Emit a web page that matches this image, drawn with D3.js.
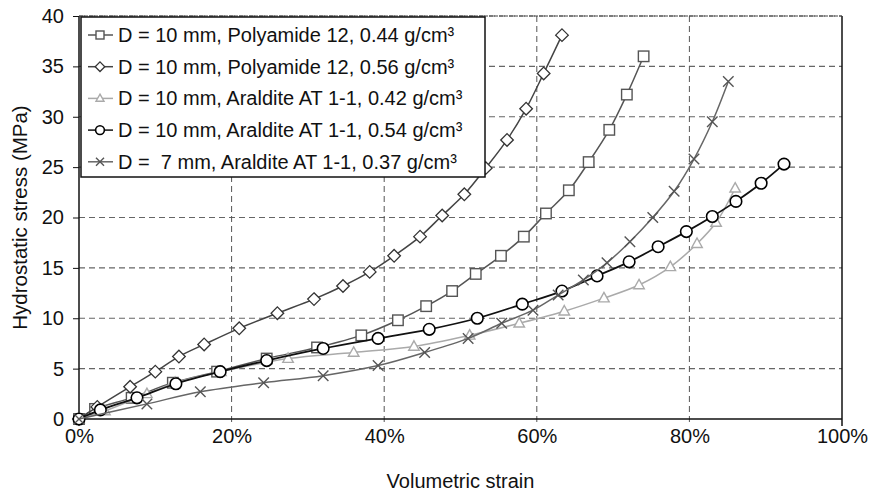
<!DOCTYPE html>
<html>
<head>
<meta charset="utf-8">
<script src="https://cdn.jsdelivr.net/npm/d3@7"></script>
<style>
  body { margin: 0; background: #fff; }
  text { font-family: "Liberation Sans", Arial, sans-serif; }
</style>
</head>
<body>
<div id="chart"></div>
<script>
// データ
var xTicks = [0, 20, 40, 60, 80, 100];
var yTicks = [0, 5, 10, 15, 20, 25, 30, 35, 40];

var seriesNames = [
  "D = 10 mm, Polyamide 12, 0.44 g/cm³",
  "D = 10 mm, Polyamide 12, 0.56 g/cm³",
  "D = 10 mm, Araldite AT 1-1, 0.42 g/cm³",
  "D = 10 mm, Araldite AT 1-1, 0.54 g/cm³",
  "D =  7 mm, Araldite AT 1-1, 0.37 g/cm³"
];

var pa044X = [0, 2.1, 6.9, 12.3, 18.1, 24.6, 31.2, 37.0, 41.8, 45.5, 48.9, 52.0, 55.3, 58.3, 61.2, 64.2, 66.8, 69.5, 71.8, 74.0];
var pa044Y = [0, 1.0, 2.1, 3.6, 4.7, 6.0, 7.1, 8.3, 9.8, 11.2, 12.7, 14.4, 16.2, 18.1, 20.4, 22.7, 25.5, 28.7, 32.2, 36.0];

var pa056X = [0, 2.4, 6.7, 10.0, 13.1, 16.4, 21.0, 26.0, 30.8, 34.6, 38.1, 41.3, 44.7, 47.6, 50.5, 53.3, 56.1, 58.6, 60.9, 63.3];
var pa056Y = [0, 1.2, 3.2, 4.7, 6.2, 7.4, 9.0, 10.5, 11.9, 13.2, 14.6, 16.2, 18.1, 20.2, 22.3, 24.9, 27.7, 30.8, 34.3, 38.1];

var ar042X = [0, 3.4, 8.9, 12.6, 18.6, 27.4, 36.0, 43.9, 51.2, 57.7, 63.6, 68.8, 73.4, 77.5, 81.0, 83.5, 86.0];
var ar042Y = [0, 0.8, 2.5, 3.6, 4.7, 6.0, 6.6, 7.2, 8.3, 9.5, 10.7, 12.0, 13.3, 15.1, 17.4, 19.5, 22.9];

var ar054X = [0, 2.8, 7.6, 12.7, 18.5, 24.6, 32.0, 39.2, 45.9, 52.2, 58.1, 63.3, 67.9, 72.1, 75.9, 79.6, 83.0, 86.1, 89.4, 92.4];
var ar054Y = [0, 0.9, 2.1, 3.5, 4.7, 5.8, 7.0, 8.0, 8.9, 10.0, 11.4, 12.7, 14.2, 15.6, 17.1, 18.6, 20.1, 21.6, 23.4, 25.3];

var ar037X = [0, 8.9, 15.9, 24.2, 32.0, 39.2, 45.3, 51.0, 55.4, 59.5, 62.8, 66.1, 69.2, 72.2, 75.2, 78.0, 80.6, 83.0, 85.1];
var ar037Y = [0, 1.5, 2.7, 3.6, 4.3, 5.3, 6.6, 8.0, 9.5, 10.8, 12.3, 13.8, 15.5, 17.6, 20.0, 22.6, 25.8, 29.5, 33.5];

// 描画領域
var W = 871, H = 494;
var margin = {top: 16, right: 29, bottom: 75, left: 79},
  width = W - margin.left - margin.right,
  height = H - margin.top - margin.bottom;

var x = d3.scaleLinear().domain([0, 100]).range([0, width]);
var y = d3.scaleLinear().domain([0, 40]).range([height, 0]);

var svg = d3.select("#chart").append("svg")
  .attr("width", W).attr("height", H)
  .append("g")
  .attr("transform", "translate(" + margin.left + "," + margin.top + ")");

// グリッド
svg.selectAll("line.hgrid").data(yTicks.filter(function(d){ return d > 0; }))
  .enter().append("line")
  .attr("x1", 0).attr("x2", width)
  .attr("y1", function(d){ return y(d); }).attr("y2", function(d){ return y(d); })
  .attr("stroke", "#666").attr("stroke-width", 1.2)
  .attr("stroke-dasharray", "6,4");

svg.selectAll("line.vgrid").data(xTicks.filter(function(d){ return d > 0 && d < 100; }))
  .enter().append("line")
  .attr("x1", function(d){ return x(d); }).attr("x2", function(d){ return x(d); })
  .attr("y1", 0).attr("y2", height + 7)
  .attr("stroke", "#555").attr("stroke-width", 1)
  .attr("stroke-dasharray", "6,4");

// 軸
var xAxis = d3.axisBottom(x).tickValues(xTicks)
  .tickFormat(function(d){ return d + "%"; })
  .tickSize(0).tickPadding(10);
var yAxis = d3.axisLeft(y).tickValues(yTicks)
  .tickSize(6).tickPadding(9);

var gx = svg.append("g").attr("transform", "translate(0," + height + ")").call(xAxis);
var gy = svg.append("g").call(yAxis);
[gx, gy].forEach(function(g){
  g.select(".domain").remove();
  g.selectAll("text").attr("font-size", 20).attr("fill", "#111")
    .style("font-family", "'Liberation Sans', Arial, sans-serif");
  g.selectAll("line").attr("stroke", "#111");
});

// 枠
svg.append("line").attr("x1", 0).attr("x2", 0).attr("y1", 0).attr("y2", height)
  .attr("stroke", "#111").attr("stroke-width", 1.5);
svg.append("line").attr("x1", 0).attr("x2", width).attr("y1", height).attr("y2", height)
  .attr("stroke", "#111").attr("stroke-width", 1.5);
svg.append("line").attr("x1", width).attr("x2", width).attr("y1", 0).attr("y2", height + 7)
  .attr("stroke", "#111").attr("stroke-width", 1.5);
svg.append("line").attr("x1", 0).attr("x2", width).attr("y1", 0).attr("y2", 0)
  .attr("stroke", "#444").attr("stroke-width", 1.2).attr("stroke-dasharray", "4,1");

// 軸ラベル
svg.append("text")
  .attr("x", width / 2).attr("y", height + 69)
  .attr("text-anchor", "middle").attr("font-size", 20).attr("fill", "#111")
  .text("Volumetric strain");
svg.append("text")
  .attr("transform", "rotate(-90)")
  .attr("x", -height / 2).attr("y", -52)
  .attr("text-anchor", "middle").attr("font-size", 20.5).attr("fill", "#111")
  .text("Hydrostatic stress (MPa)");

// 系列
function zip(xs, ys){ return xs.map(function(v, i){ return [v, ys[i]]; }); }

var series = [
  {data: zip(pa044X, pa044Y), color: "#555", line: "#555", sym: "square"},
  {data: zip(pa056X, pa056Y), color: "#333", line: "#444", sym: "diamond"},
  {data: zip(ar042X, ar042Y), color: "#aaa", line: "#aaa", sym: "triangle"},
  {data: zip(ar054X, ar054Y), color: "#000", line: "#111", sym: "circle"},
  {data: zip(ar037X, ar037Y), color: "#555", line: "#666", sym: "cross"}
];

function marker(g, sym, s, color){
  if (sym === "square") {
    g.append("rect").attr("x", -s/2).attr("y", -s/2).attr("width", s).attr("height", s)
      .attr("fill", "#fff").attr("stroke", color).attr("stroke-width", 1.4);
  } else if (sym === "diamond") {
    var r = s * 0.6;
    g.append("path").attr("d", "M0," + (-r) + "L" + r + ",0L0," + r + "L" + (-r) + ",0Z")
      .attr("fill", "#fff").attr("stroke", color).attr("stroke-width", 1.3);
  } else if (sym === "triangle") {
    var h = s * 0.9;
    g.append("path").attr("d", "M0," + (-h*0.6) + "L" + (s/2) + "," + (h*0.4) + "L" + (-s/2) + "," + (h*0.4) + "Z")
      .attr("fill", "#fff").attr("stroke", color).attr("stroke-width", 1.4);
  } else if (sym === "circle") {
    g.append("circle").attr("r", s * 0.55)
      .attr("fill", "#fff").attr("stroke", color).attr("stroke-width", 1.6);
  } else if (sym === "cross") {
    var c = s / 2;
    g.append("path").attr("d", "M" + (-c) + "," + (-c) + "L" + c + "," + c + "M" + (-c) + "," + c + "L" + c + "," + (-c))
      .attr("fill", "none").attr("stroke", color).attr("stroke-width", 1.4);
  }
}

var line = d3.line()
  .x(function(d){ return x(d[0]); })
  .y(function(d){ return y(d[1]); })
  .curve(d3.curveCatmullRom.alpha(0.5));

series.forEach(function(s){
  var g = svg.append("g");
  g.append("path").datum(s.data).attr("d", line)
    .attr("fill", "none").attr("stroke", s.line)
    .attr("stroke-width", s.sym === "circle" ? 1.8 : 1.5);
  g.selectAll("g.pt").data(s.data).enter().append("g")
    .attr("transform", function(d){ return "translate(" + x(d[0]) + "," + y(d[1]) + ")"; })
    .each(function(){ marker(d3.select(this), s.sym, 10.5, s.color); });
});

// 凡例
var leg = svg.append("g").attr("transform", "translate(2,1)");
leg.append("rect").attr("x", 0).attr("y", 0).attr("width", 404).attr("height", 160)
  .attr("fill", "#fff").attr("stroke", "#111").attr("stroke-width", 1.5);
seriesNames.forEach(function(name, i){
  var cy = 18 + i * 31.7;
  var row = leg.append("g").attr("transform", "translate(0," + cy + ")");
  row.append("line").attr("x1", 7).attr("x2", 32).attr("y1", 0).attr("y2", 0)
    .attr("stroke", series[i].line).attr("stroke-width", 1.5);
  var m = row.append("g").attr("transform", "translate(19,0)");
  marker(m, series[i].sym, 8, series[i].color);
  row.append("text").attr("x", 37).attr("y", 7)
    .attr("font-size", 20).attr("fill", "#111")
    .style("white-space", "pre")
    .text(name);
});
</script>
</body>
</html>
